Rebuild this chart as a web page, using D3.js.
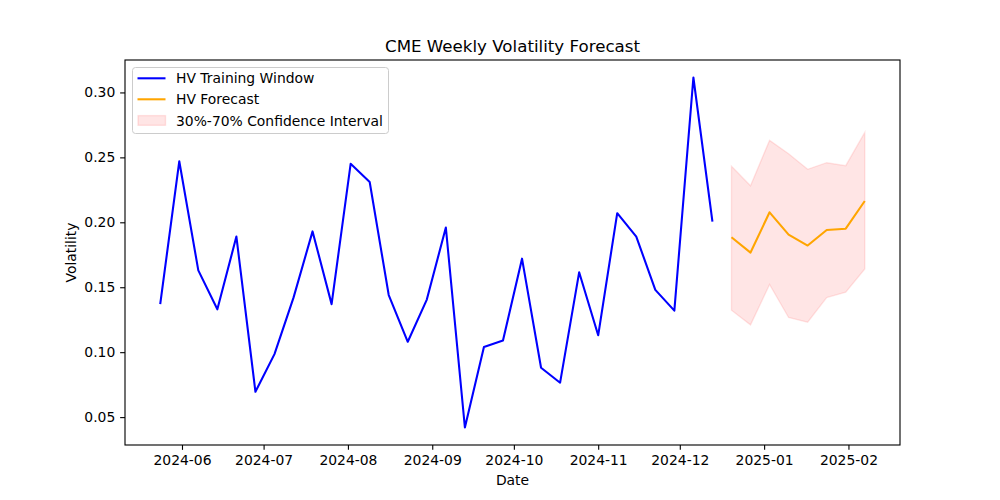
<!DOCTYPE html>
<html>
<head>
<meta charset="utf-8">
<script src="https://cdn.jsdelivr.net/npm/d3@7"></script>
<style>
  html, body { margin: 0; padding: 0; background: #fff; }
  svg { display: block; font-family: "DejaVu Sans", sans-serif; }
</style>
</head>
<body>
<svg id="chart" width="1000" height="500"></svg>
<script>
// ---- Data ----
const trainStart = "2024-05-24";
const trainValues = [
  0.137, 0.247, 0.163, 0.133, 0.189, 0.0695, 0.0985, 0.142, 0.193, 0.137,
  0.245, 0.231, 0.144, 0.108, 0.1405, 0.196, 0.042, 0.104, 0.109, 0.172,
  0.088, 0.0765, 0.1615, 0.113, 0.207, 0.189, 0.148, 0.132, 0.3115, 0.2005
];
const forecastStart = "2024-12-20";
const forecastValues = [0.1885, 0.1767, 0.2077, 0.1905, 0.1821, 0.1941, 0.1951, 0.2164];
const ciUpper = [0.2431, 0.2282, 0.2631, 0.2528, 0.2408, 0.2459, 0.2436, 0.2692];
const ciLower = [0.1323, 0.1210, 0.1521, 0.1267, 0.1231, 0.1421, 0.1462, 0.1641];
const yTicks = [0.05, 0.10, 0.15, 0.20, 0.25, 0.30];
const xTickMonths = ["2024-06-01","2024-07-01","2024-08-01","2024-09-01","2024-10-01","2024-11-01","2024-12-01","2025-01-01","2025-02-01"];
const legendLabels = ["HV Training Window", "HV Forecast", "30%-70% Confidence Interval"];
const titleText = "CME Weekly Volatility Forecast";

// ---- Build dated rows ----
const parse = d3.utcParse("%Y-%m-%d");
const DAY = 86400000;
const weekly = (start, i) => new Date(parse(start).getTime() + i * 7 * DAY);
const train = trainValues.map((v, i) => ({ date: weekly(trainStart, i), v }));
const forecast = forecastValues.map((v, i) => ({ date: weekly(forecastStart, i), v, lo: ciLower[i], hi: ciUpper[i] }));

// ---- Layout ----
const svg = d3.select("#chart");
const L = 125, R = 900, T = 60, B = 445;

const allDates = train.map(d => d.date).concat(forecast.map(d => d.date));
const dMin = d3.min(allDates).getTime(), dMax = d3.max(allDates).getTime();
const dPad = (dMax - dMin) * 0.05;
const allV = trainValues.concat(forecastValues, ciUpper, ciLower);
const vMin = d3.min(allV), vMax = d3.max(allV);
const vPad = (vMax - vMin) * 0.05;

const x = d3.scaleUtc().domain([new Date(dMin - dPad), new Date(dMax + dPad)]).range([L, R]);
const y = d3.scaleLinear().domain([vMin - vPad, vMax + vPad]).range([B, T]);

// ---- CI band ----
const area = d3.area().x(d => x(d.date)).y0(d => y(d.lo)).y1(d => y(d.hi));
svg.append("path").datum(forecast)
  .attr("d", area)
  .attr("fill", "rgba(255,0,0,0.1)")
  .attr("stroke", "rgba(255,0,0,0.1)")
  .attr("stroke-width", 1.4);

// ---- Lines ----
const line = d3.line().x(d => x(d.date)).y(d => y(d.v));
svg.append("path").datum(train).attr("d", line)
  .attr("fill", "none").attr("stroke", "#0000ff").attr("stroke-width", 2.08)
  .attr("stroke-linejoin", "round").attr("stroke-linecap", "butt");
svg.append("path").datum(forecast).attr("d", line)
  .attr("fill", "none").attr("stroke", "#ffa500").attr("stroke-width", 2.08)
  .attr("stroke-linejoin", "round").attr("stroke-linecap", "butt");

// ---- Axes ----
const tickFont = 13.9;
const xAxis = d3.axisBottom(x)
  .tickValues(xTickMonths.map(parse))
  .tickFormat(d3.utcFormat("%Y-%m"))
  .tickSize(4.86).tickPadding(4.86);
const gx = svg.append("g").attr("transform", `translate(0,${B})`).call(xAxis);
gx.select(".domain").remove();
gx.selectAll("line").attr("stroke", "#000").attr("stroke-width", 1.11);
gx.selectAll("text").attr("font-size", tickFont).attr("fill", "#000").attr("font-family", "DejaVu Sans");

const yAxis = d3.axisLeft(y)
  .tickValues(yTicks)
  .tickFormat(d3.format(".2f"))
  .tickSize(4.86).tickPadding(4.86);
const gy = svg.append("g").attr("transform", `translate(${L},0)`).call(yAxis);
gy.select(".domain").remove();
gy.selectAll("line").attr("stroke", "#000").attr("stroke-width", 1.11);
gy.selectAll("text").attr("font-size", tickFont).attr("fill", "#000").attr("font-family", "DejaVu Sans");

// Spines
svg.append("rect").attr("x", L).attr("y", T).attr("width", R - L).attr("height", B - T)
  .attr("fill", "none").attr("stroke", "#000").attr("stroke-width", 1.11);

// ---- Labels ----
svg.append("text").attr("x", (L + R) / 2).attr("y", 52)
  .attr("text-anchor", "middle").attr("font-size", 16.67).attr("fill", "#000")
  .text(titleText);
svg.append("text").attr("x", (L + R) / 2).attr("y", 485)
  .attr("text-anchor", "middle").attr("font-size", tickFont).attr("fill", "#000")
  .text("Date");
svg.append("text")
  .attr("transform", `translate(76,${(T + B) / 2}) rotate(-90)`)
  .attr("text-anchor", "middle").attr("font-size", tickFont).attr("fill", "#000")
  .text("Volatility");

// ---- Legend ----
const lg = svg.append("g");
lg.append("rect").attr("x", 132.5).attr("y", 67.5).attr("width", 256).attr("height", 66)
  .attr("rx", 3).attr("ry", 3)
  .attr("fill", "rgba(255,255,255,0.8)").attr("stroke", "#cccccc").attr("stroke-width", 1);
const rowsY = [78.3, 99.3, 120.5];
lg.append("line").attr("x1", 137.5).attr("x2", 165.5).attr("y1", rowsY[0]).attr("y2", rowsY[0])
  .attr("stroke", "#0000ff").attr("stroke-width", 2.08);
lg.append("line").attr("x1", 137.5).attr("x2", 165.5).attr("y1", rowsY[1]).attr("y2", rowsY[1])
  .attr("stroke", "#ffa500").attr("stroke-width", 2.08);
lg.append("rect").attr("x", 138).attr("y", rowsY[2] - 4.9).attr("width", 27.5).attr("height", 9.7)
  .attr("fill", "rgba(255,0,0,0.1)").attr("stroke", "rgba(255,0,0,0.1)").attr("stroke-width", 1.4);
legendLabels.forEach((t, i) => {
  lg.append("text").attr("x", 176).attr("y", rowsY[i]).attr("dy", "0.36em")
    .attr("font-size", tickFont).attr("fill", "#000").text(t);
});
</script>
</body>
</html>
